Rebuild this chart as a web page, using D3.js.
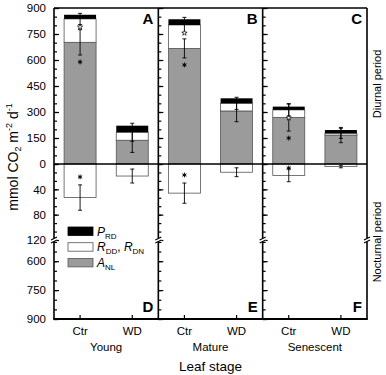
<!DOCTYPE html>
<html>
<head>
<meta charset="utf-8">
<script src="https://cdn.jsdelivr.net/npm/d3@7"></script>
<style>
  body { margin: 0; background: #fff; }
  text { font-family: "Liberation Sans", Arial, Helvetica, sans-serif; fill: #000; }
</style>
</head>
<body>
<div id="chart"></div>
<script>
// Data (order: Young Ctr, Young WD, Mature Ctr, Mature WD, Senescent Ctr, Senescent WD)

const stages = ["Young", "Mature", "Senescent"];
const treatments = ["Ctr", "WD"];

// diurnal period
const aNL = [702, 137, 667, 306, 269, 167];
const rDD = [135, 46, 135, 44, 43, 10];
const pRD = [24, 38, 33, 29, 19, 19];
const errA = [73, 70, 55, 62, 79, 44];
const errR = [32, 52, 44, 35, 34, 29];

// nocturnal period
const rDN = [53, 19, 46, 13, 18, 4];
const errN = [20, 11, 16, 7, 10, 2];

// significance stars
const sigA = [true, false, true, false, true, false];
const sigR = [true, false, true, false, true, false];
const sigN = [true, false, true, false, true, false];

// tick labels
const dayTicks = [0, 150, 300, 450, 600, 750, 900];
const nightTicks = [40, 80, 120];
const lowTicks = [600, 750, 900];
const topLetters = ["A", "B", "C"];
const bottomLetters = ["D", "E", "F"];

// Config

const width = 386;
const height = 375;
const margin = { top: 8, left: 54, right: 19, bottom: 56 };
const plotRight = width - margin.right;
const plotBottom = height - margin.bottom;
const zeroY = 164;
const breakY = 240;
const grayFill = "#9b9b9b";
const barStroke = "#555";

const svg = d3.select("#chart")
  .append("svg")
  .attr("width", width)
  .attr("height", height);

// Scales

const xStage = d3.scaleBand()
  .domain(stages)
  .range([margin.left, plotRight]);

const xTreat = d3.scaleBand()
  .domain(treatments)
  .range([0, xStage.bandwidth()])
  .paddingInner(0.387)
  .paddingOuter(0.1935);

const yDay = d3.scaleLinear().domain([0, 900]).range([zeroY, margin.top]);
const yNight = d3.scaleLinear().domain([0, 120]).range([zeroY, breakY]);
const yLow = d3.scaleLinear().domain([490, 900]).range([breakY, plotBottom]);

// Rows

const rows = [];
stages.forEach((s, i) => {
  treatments.forEach((t, j) => {
    const k = i * 2 + j;
    rows.push({
      stage: s, treat: t,
      a: aNL[k], r: rDD[k], p: pRD[k],
      ea: errA[k], er: errR[k],
      n: rDN[k], en: errN[k],
      sa: sigA[k], sr: sigR[k], sn: sigN[k]
    });
  });
});

const xLeft = d => xStage(d.stage) + xTreat(d.treat);
const xMid = d => xLeft(d) + xTreat.bandwidth() / 2;
const bw = xTreat.bandwidth();

// Bars

const bars = svg.append("g");

bars.selectAll("rect.anl")
  .data(rows).join("rect")
  .attr("x", xLeft).attr("width", bw)
  .attr("y", d => yDay(d.a)).attr("height", d => zeroY - yDay(d.a))
  .attr("fill", grayFill).attr("stroke", barStroke).attr("stroke-width", 0.8);

bars.selectAll("rect.rdd")
  .data(rows).join("rect")
  .attr("x", xLeft).attr("width", bw)
  .attr("y", d => yDay(d.a + d.r)).attr("height", d => yDay(d.a) - yDay(d.a + d.r))
  .attr("fill", "#fff").attr("stroke", barStroke).attr("stroke-width", 0.8);

bars.selectAll("rect.prd")
  .data(rows).join("rect")
  .attr("x", xLeft).attr("width", bw)
  .attr("y", d => yDay(d.a + d.r + d.p)).attr("height", d => yDay(d.a + d.r) - yDay(d.a + d.r + d.p))
  .attr("fill", "#000");

bars.selectAll("rect.rdn")
  .data(rows).join("rect")
  .attr("x", xLeft).attr("width", bw)
  .attr("y", zeroY).attr("height", d => yNight(d.n) - zeroY)
  .attr("fill", "#fff").attr("stroke", barStroke).attr("stroke-width", 0.8);

// Error bars

function errorBar(g, x, ya, yb) {
  const e = g.append("g").attr("stroke", "#000").attr("stroke-width", 0.9);
  e.append("line").attr("x1", x).attr("x2", x).attr("y1", ya).attr("y2", yb);
  e.append("line").attr("x1", x - 2).attr("x2", x + 2).attr("y1", ya).attr("y2", ya);
  e.append("line").attr("x1", x - 2).attr("x2", x + 2).attr("y1", yb).attr("y2", yb);
}

const errG = svg.append("g");
rows.forEach(d => {
  const x = xMid(d);
  errorBar(errG, x, yDay(d.a - d.ea), yDay(d.a + d.ea));
  errorBar(errG, x, yDay(d.a + d.r - d.er), yDay(d.a + d.r + d.er));
  errorBar(errG, x, yNight(d.n - d.en), yNight(d.n + d.en));
});

// Stars

const asterisk = d3.symbol().type(d3.symbolAsterisk).size(16);
const openStar = d3.symbol().type(d3.symbolStar).size(9);

rows.forEach(d => {
  const x = xMid(d);
  if (d.sa) {
    errG.append("path").attr("d", asterisk)
      .attr("transform", `translate(${x},${yDay(d.a - d.ea) + 7})`)
      .attr("stroke", "#000").attr("stroke-width", 1).attr("fill", "none");
  }
  if (d.sr) {
    errG.append("path").attr("d", openStar)
      .attr("transform", `translate(${x},${yDay(d.a + d.r) + 8})`)
      .attr("stroke", "#000").attr("stroke-width", 0.7).attr("fill", "#fff");
  }
  if (d.sn) {
    const yy = Math.max(yNight(d.n - d.en) - 8, zeroY + 4);
    errG.append("path").attr("d", asterisk)
      .attr("transform", `translate(${x},${yy})`)
      .attr("stroke", "#000").attr("stroke-width", 1).attr("fill", "none");
  }
});

// Axes (ticks pointing inwards)

function drawTicks(x, scale, values, size, labels) {
  const ax = d3.axisLeft(scale)
    .tickValues(values)
    .tickSizeInner(-size)
    .tickSizeOuter(0)
    .tickPadding(8)
    .tickFormat(labels ? d3.format("d") : "");
  const g = svg.append("g")
    .attr("transform", `translate(${x},0)`)
    .call(ax);
  g.select(".domain").remove();
  g.selectAll(".tick line").attr("stroke", "#000").attr("stroke-width", 1.2);
  g.selectAll(".tick text")
    .attr("font-size", 11.5)
    .attr("font-family", "Liberation Sans, Arial, sans-serif");
  return g;
}

const axisXs = [margin.left, xStage("Mature"), xStage("Senescent")];

axisXs.forEach((x, i) => {
  const lab = i === 0;
  drawTicks(x, yDay, d3.range(0, 901, 50), 3, false);
  drawTicks(x, yDay, dayTicks, 5, lab);
  drawTicks(x, yNight, d3.range(0, 121, 40 / 3), 3, false);
  drawTicks(x, yNight, nightTicks, 5, lab);
  drawTicks(x, yLow, d3.range(500, 901, 50), 3, false);
  drawTicks(x, yLow, lowTicks, 5, lab);
});

// x ticks
svg.append("g")
  .selectAll("line")
  .data(rows).join("line")
  .attr("x1", xMid).attr("x2", xMid)
  .attr("y1", plotBottom).attr("y2", plotBottom - 4)
  .attr("stroke", "#000").attr("stroke-width", 1.2);

// Frame and zero line

const frame = svg.append("g").attr("stroke", "#000");

[margin.left, xStage("Mature"), xStage("Senescent"), plotRight].forEach(x => {
  frame.append("line")
    .attr("x1", x).attr("x2", x)
    .attr("y1", margin.top).attr("y2", plotBottom)
    .attr("stroke-width", 1.6);
});

frame.append("line")
  .attr("x1", margin.left).attr("x2", plotRight)
  .attr("y1", margin.top).attr("y2", margin.top)
  .attr("stroke-width", 1.4);

frame.append("line")
  .attr("x1", margin.left - 0.8).attr("x2", plotRight + 0.8)
  .attr("y1", plotBottom).attr("y2", plotBottom)
  .attr("stroke-width", 2);

frame.append("line")
  .attr("x1", margin.left).attr("x2", plotRight)
  .attr("y1", zeroY).attr("y2", zeroY)
  .attr("stroke-width", 1.6);

// Axis breaks

[margin.left, xStage("Mature"), xStage("Senescent"), plotRight].forEach(x => {
  svg.append("rect")
    .attr("x", x - 3).attr("y", breakY - 1.5)
    .attr("width", 6).attr("height", 3)
    .attr("fill", "#fff");
  [-1.6, 1.6].forEach(o => {
    svg.append("line")
      .attr("x1", x - 3).attr("y1", breakY + o + 1.5)
      .attr("x2", x + 3).attr("y2", breakY + o - 1.5)
      .attr("stroke", "#000").attr("stroke-width", 1.1);
  });
});

// Panel letters

stages.forEach((s, i) => {
  const xr = xStage(s) + xStage.bandwidth() - 5;
  svg.append("text")
    .attr("x", xr).attr("y", 24)
    .attr("text-anchor", "end")
    .attr("font-size", 15).attr("font-weight", "bold")
    .text(topLetters[i]);
  svg.append("text")
    .attr("x", xr).attr("y", 312)
    .attr("text-anchor", "end")
    .attr("font-size", 15).attr("font-weight", "bold")
    .text(bottomLetters[i]);
});

// x labels

svg.append("g")
  .selectAll("text")
  .data(rows).join("text")
  .attr("x", xMid).attr("y", 335)
  .attr("text-anchor", "middle")
  .attr("font-size", 11.5)
  .text(d => d.treat);

svg.append("g")
  .selectAll("text")
  .data(stages).join("text")
  .attr("x", d => xStage(d) + xStage.bandwidth() / 2).attr("y", 351)
  .attr("text-anchor", "middle")
  .attr("font-size", 11.5)
  .text(d => d);

svg.append("text")
  .attr("x", (margin.left + plotRight) / 2).attr("y", 371)
  .attr("text-anchor", "middle")
  .attr("font-size", 13.5)
  .text("Leaf stage");

// y label

const yLab = svg.append("text")
  .attr("transform", `translate(18,157) rotate(-90)`)
  .attr("text-anchor", "middle")
  .attr("font-size", 14);
yLab.append("tspan").text("mmol CO");
yLab.append("tspan").attr("font-size", 9).attr("dy", 3).text("2");
yLab.append("tspan").attr("dy", -3).text(" m");
yLab.append("tspan").attr("font-size", 9).attr("dy", -6).text("-2");
yLab.append("tspan").attr("dy", 6).text(" d");
yLab.append("tspan").attr("font-size", 9).attr("dy", -6).text("-1");

// period labels

svg.append("text")
  .attr("transform", `translate(381,84) rotate(-90)`)
  .attr("text-anchor", "middle")
  .attr("font-size", 11)
  .text("Diurnal period");

svg.append("text")
  .attr("transform", `translate(381,242) rotate(-90)`)
  .attr("text-anchor", "middle")
  .attr("font-size", 11)
  .text("Nocturnal period");

// Legend

const legend = svg.append("g").attr("transform", "translate(68,227)");
const legendFills = ["#000", "#fff", grayFill];

legendFills.forEach((f, i) => {
  legend.append("rect")
    .attr("x", 0).attr("y", i * 15.7)
    .attr("width", 25).attr("height", 8.5)
    .attr("fill", f)
    .attr("stroke", f === "#000" ? "#000" : barStroke)
    .attr("stroke-width", 0.8);
});

function legendLabel(y, parts) {
  const t = legend.append("text").attr("x", 29).attr("y", y).attr("font-size", 12);
  parts.forEach(p => {
    t.append("tspan").attr("font-style", "italic").text(p[0]);
    t.append("tspan").attr("font-size", 8).attr("dy", 3).text(p[1]);
    t.append("tspan").attr("dy", -3).text(p[2] || "");
  });
}

legendLabel(8.5, [["P", "RD"]]);
legendLabel(8.5 + 15.7, [["R", "DD", ", "], ["R", "DN"]]);
legendLabel(8.5 + 31.4, [["A", "NL"]]);
</script>
</body>
</html>
